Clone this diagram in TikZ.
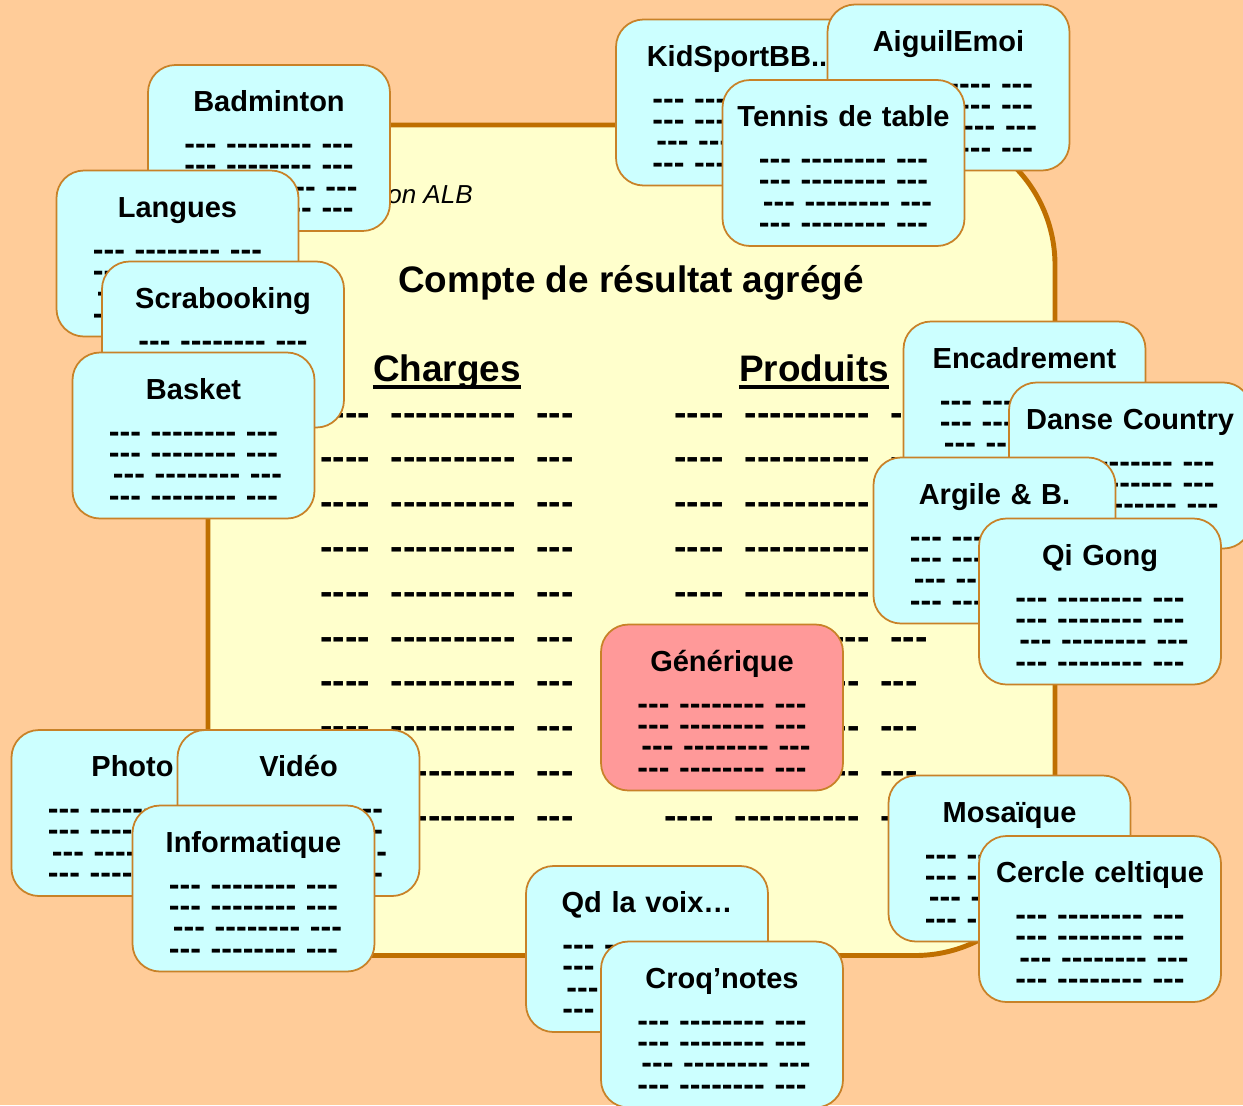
\documentclass[tikz,border=0pt]{standalone}
\usepackage{fontspec}
\setmainfont{Liberation Sans}
\newfontfamily\dashfont{Liberation Sans}[Ligatures=TeXOff]
\definecolor{peach}{RGB}{255,204,153}
\definecolor{cream}{RGB}{255,255,204}
\definecolor{framebrown}{RGB}{191,111,0}
\definecolor{cardline}{RGB}{200,130,40}
\definecolor{cardfill}{RGB}{204,255,255}
\definecolor{genfill}{RGB}{255,153,153}

\begin{document}
\begin{tikzpicture}[
    card/.style={rectangle, draw=cardline, fill=cardfill, line width=1pt, rounded corners=0.55cm, inner sep=0pt, text width=4.84cm, text height=0.932cm, text depth=2.388cm, align=center, font=\bfseries\fontsize{16.5}{19.8}\selectfont, execute at end node={\\[0.434cm]\dashfont\bfseries\fontsize{18.3}{12.12}\selectfont{}--- -------- ---\\--- -------- ---\\\hspace*{0.16cm}--- -------- ---\\--- -------- ---}},
    generic/.style={card, fill=genfill},
    heading/.style={inner sep=0pt, anchor=base, font=\bfseries\fontsize{21}{25}\selectfont},
    column/.style={inner sep=0pt, anchor=base west, text width=7cm, align=flush left, font=\dashfont\bfseries\fontsize{21.3}{25.5}\selectfont},
    underbar/.style={line width=2.3pt}
]
    \fill[peach] (0,0) rectangle (24.86,-22.1);
    \useasboundingbox (0,0) rectangle (24.86,-22.1);
    \draw[framebrown, line width=2.8pt, fill=cream] (4.16,-2.5) -- (18.3,-2.5) arc[start angle=90, end angle=0, radius=2.8cm] -- (21.1,-16.31) arc[start angle=0, end angle=-90, radius=2.8cm] -- (4.16,-19.11) -- cycle;

    \node[inner sep=0pt, anchor=base east, font=\itshape\fontsize{14.8}{17}\selectfont] (assoc) at (9.46,-4.066) {on ALB};
    \node[heading] (title) at (12.62,-5.84) {Compte de résultat agrégé};
    \node[heading] (charges) at (8.94,-7.62) {Charges};
    \node[heading] (produits) at (16.28,-7.62) {Produits};
    \draw[underbar] ([yshift=-0.12cm]charges.base west) -- ([yshift=-0.12cm]charges.base east);
    \draw[underbar] ([yshift=-0.12cm]produits.base west) -- ([yshift=-0.12cm]produits.base east);

    \node[column] (chargerows) at (6.40,-8.50) {----~~----------~~---\\----~~----------~~---\\----~~----------~~---\\----~~----------~~---\\----~~----------~~---\\----~~----------~~---\\----~~----------~~---\\----~~----------~~---\\----~~----------~~---\\----~~----------~~---};
    \node[column] (produitrows) at (13.48,-8.50) {----~~----------~~---\\----~~----------~~---\\----~~----------~~---\\----~~----------~~---\\----~~----------~~---\\----~~----------~~---\\\hspace*{-0.2cm}----~~----------~~---\\\hspace*{-0.2cm}----~~----------~~---\\\hspace*{-0.2cm}----~~----------~~---\\\hspace*{-0.2cm}----~~----------~~---};

    \node[card] (badminton) at (5.38,-2.96) {Badminton};
    \node[card] (langues) at (3.55,-5.07) {Langues};
    \node[card] (scrap) at (4.46,-6.89) {Scrabooking};
    \node[card] (basket) at (3.87,-8.71) {Basket};
    \node[card] (kidsport) at (14.74,-2.05) {KidSportBB..};
    \node[card] (aiguil) at (18.97,-1.75) {AiguilEmoi};
    \node[card] (tennis) at (16.87,-3.26) {Tennis de table};
    \node[card] (encadrement) at (20.49,-8.09) {Encadrement};
    \node[card] (danse) at (22.6,-9.31) {Danse Country};
    \node[card] (argile) at (19.89,-10.81) {Argile \& B.};
    \node[card] (qigong) at (22.0,-12.03) {Qi Gong};
    \node[generic] (generique) at (14.44,-14.15) {Générique};
    \node[card] (photo) at (2.65,-16.26) {Photo};
    \node[card] (video) at (5.97,-16.26) {Vidéo};
    \node[card] (info) at (5.07,-17.77) {Informatique};
    \node[card] (voix) at (12.94,-18.98) {Qd la voix…};
    \node[card] (croq) at (14.44,-20.49) {Croq’notes};
    \node[card] (mosaique) at (20.19,-17.17) {Mosaïque};
    \node[card] (celtique) at (22.0,-18.38) {Cercle celtique};
\end{tikzpicture}
\end{document}
